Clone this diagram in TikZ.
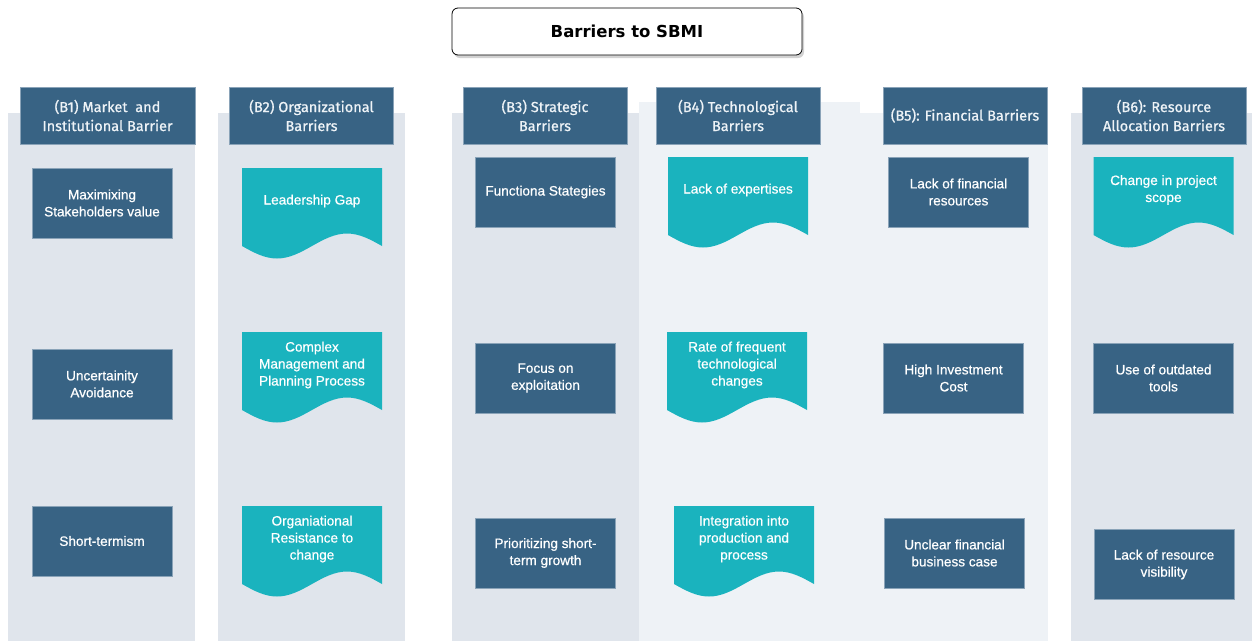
\documentclass[tikz,border=0pt]{standalone}
\usepackage{fontspec}
\setmainfont{Liberation Sans}
\newfontfamily\bodyfont[FakeBold=0.6]{Liberation Sans}
\newfontfamily\headfont[FakeBold=0.8]{Fira Sans}
\newfontfamily\titlefont{DejaVu Sans}
\usetikzlibrary{shadows}
\definecolor{panel}{HTML}{E0E5EC}
\definecolor{panellight}{HTML}{EEF2F6}
\definecolor{barblue}{HTML}{386384}
\definecolor{barline}{HTML}{8AA3B8}
\definecolor{barteal}{HTML}{1AB3BE}
\definecolor{bartext}{HTML}{EEF3F7}
\newcommand{\docbox}[4]{%
	\fill[barteal] (#2-70,#3) -- ++(140,0) -- ++(0,78) sin ++(-35,-12.5) cos ++(-35,12.5) sin ++(-35,12.5) cos ++(-35,-12.5) -- cycle;
	\node[itemtext] (#1) at (#2,#3+33) {#4};}
\begin{document}
\begin{tikzpicture}[x=1pt, y=-1pt,
	header/.style={fill=barblue, draw=barline, line width=0.8pt, text=bartext, align=center, inner sep=0pt,
		minimum width=164pt, minimum height=57pt, font=\headfont\fontsize{14.5}{19}\selectfont},
	itemtext/.style={text=white, align=center, inner sep=0pt, font=\bodyfont\fontsize{13.6}{17}\selectfont},
	item/.style={itemtext, fill=barblue, draw=barline, line width=0.6pt, minimum width=140pt, minimum height=70pt}]
	\useasboundingbox (0,0) rectangle (1252,641);
	\fill[panel] (8,113) rectangle (195,641);
	\fill[panel] (218,113) rectangle (405,641);
	\fill[panel] (452,113) rectangle (639,641);
	\fill[panellight] (639,102) rectangle (860,641);
	\fill[panellight] (860,113) rectangle (1048,641);
	\fill[panel] (1071,113) rectangle (1252,641);

	\node[draw=black, line width=0.8pt, fill=white, rounded corners=6pt, minimum width=350pt, minimum height=47pt,
		drop shadow={shadow xshift=2pt, shadow yshift=-3pt, fill=black!35}, font=\titlefont\bfseries\fontsize{16.5}{20}\selectfont]
		(title) at (627,31.5) {Barriers to SBMI};

	\node[header, minimum width=175pt] (b1) at (107.5,115.5) {(B1) Market~ and\\Institutional Barrier};
	\node[header] (b2) at (311.5,115.5) {(B2) Organizational\\Barriers};
	\node[header] (b3) at (545,115.5) {(B3) Strategic\\Barriers};
	\node[header] (b4) at (738,115.5) {(B4) Technological\\Barriers};
	\node[header] (b5) at (965,115.5) {(B5): Financial Barriers};
	\node[header] (b6) at (1164,115.5) {(B6): Resource\\Allocation Barriers};

	\node[item] (b1a) at (102,203) {Maximixing\\Stakeholders value};
	\node[item] (b1b) at (102,384) {Uncertainity\\Avoidance};
	\node[item] (b1c) at (102,541) {Short-termism};

	\docbox{b2a}{312}{168}{Leadership Gap}
	\docbox{b2b}{312}{332}{Complex\\Management and\\Planning Process}
	\docbox{b2c}{312}{506}{Organiational\\Resistance to\\change}

	\node[item] (b3a) at (545.5,192) {Functiona Stategies};
	\node[item] (b3b) at (545.5,378) {Focus on\\exploitation};
	\node[item] (b3c) at (545.5,553) {Prioritizing short-\\term growth};

	\docbox{b4a}{738}{157}{Lack of expertises}
	\docbox{b4b}{737}{332}{Rate of frequent\\technological\\changes}
	\docbox{b4c}{744}{506}{Integration into\\production and\\process}

	\node[item] (b5a) at (958.5,192) {Lack of financial\\resources};
	\node[item] (b5b) at (953.5,378) {High Investment\\Cost};
	\node[item] (b5c) at (954.5,553) {Unclear financial\\business case};

	\docbox{b6a}{1163.5}{157}{Change in project\\scope}
	\node[item] (b6b) at (1163.5,378) {Use of outdated\\tools};
	\node[item] (b6c) at (1164,564.5) {Lack of resource\\visibility};
\end{tikzpicture}
\end{document}
